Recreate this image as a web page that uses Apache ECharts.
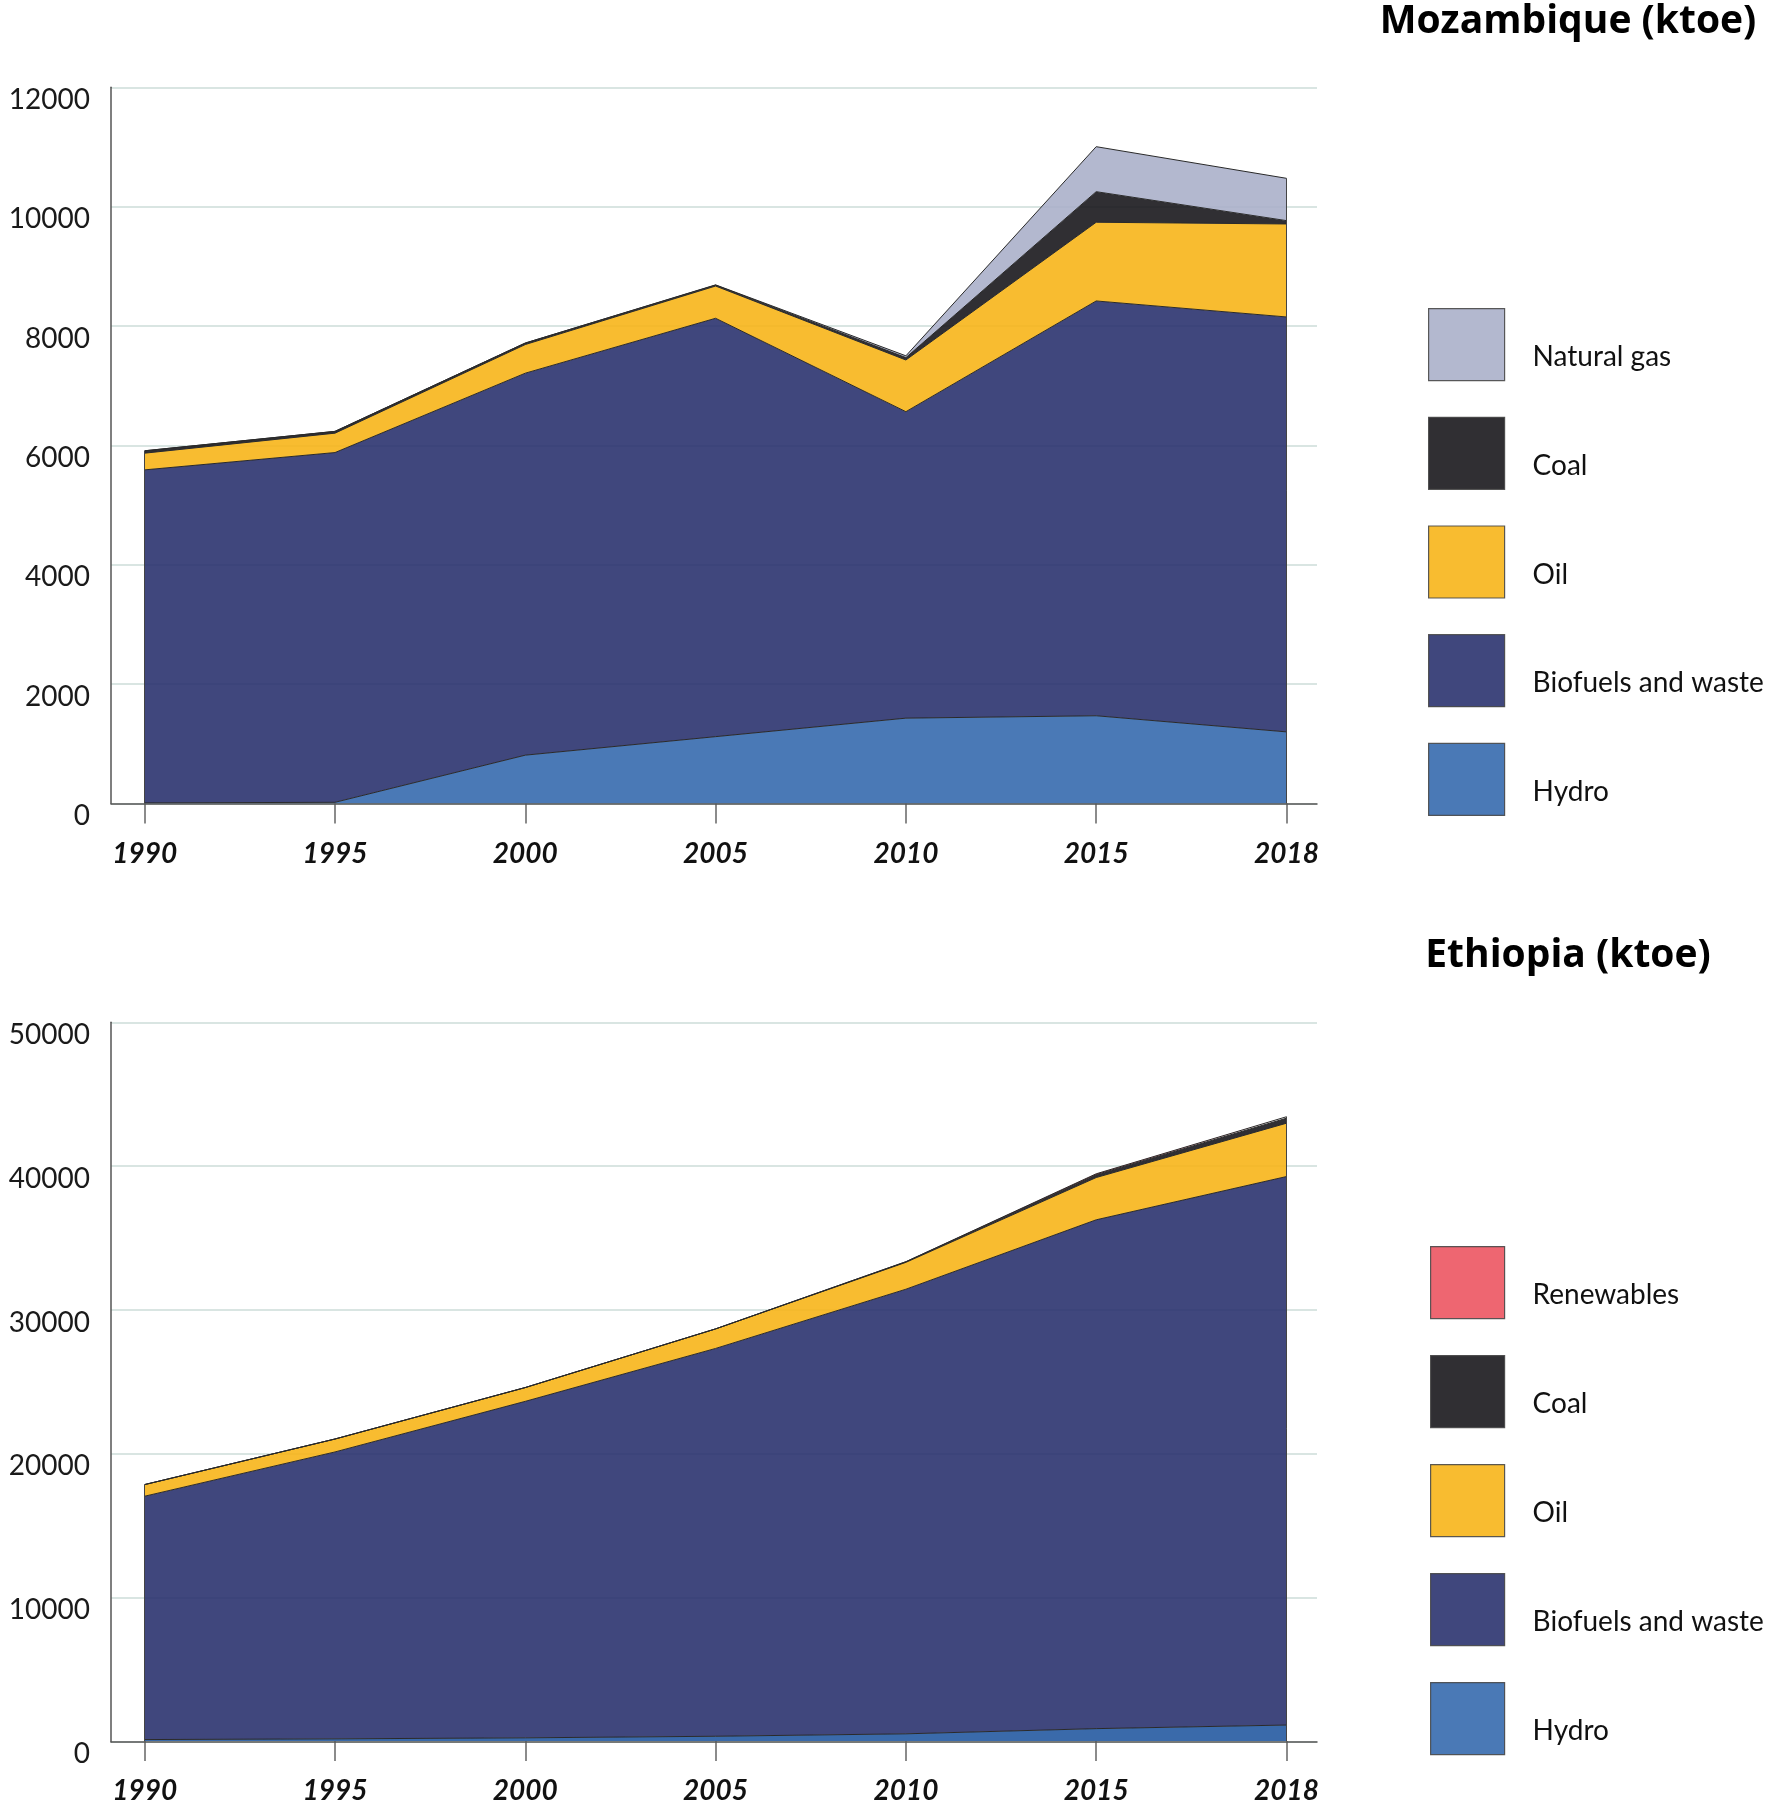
<!DOCTYPE html>
<html>
<head>
<meta charset="utf-8">
<script src="https://cdn.jsdelivr.net/npm/echarts@6/dist/echarts.min.js"></script>
<style>
  html, body { margin: 0; padding: 0; background: #ffffff; }
  #chart { width: 1770px; height: 1805px; }
</style>
</head>
<body>
<div id="chart"></div>
<script>
// ---- Data ----
const years = ['1990', '1995', '2000', '2005', '2010', '2015', '2018'];

// Mozambique (ktoe)
const mozHydro     = [10, 20, 810, 1120, 1430, 1470, 1200];
const mozBiofuels  = [5580, 5860, 6400, 7010, 5135, 6950, 6952];
const mozOil       = [280, 325, 480, 540, 866, 1319, 1558];
const mozCoal      = [40, 30, 25, 15, 40, 512, 56];
const mozGas       = [0, 0, 0, 5, 30, 754, 709];

// Ethiopia (ktoe)
const ethHydro     = [100, 150, 220, 330, 500, 860, 1110];
const ethBiofuels  = [16930, 19960, 23410, 26980, 30930, 35400, 38160];
const ethOil       = [810, 900, 960, 1360, 1870, 2940, 3710];
const ethCoal      = [0, 0, 0, 0, 40, 200, 350];
const ethRenew     = [0, 0, 0, 0, 5, 60, 100];

const mozLegend = ['Natural gas', 'Coal', 'Oil', 'Biofuels and waste', 'Hydro'];
const ethLegend = ['Renewables', 'Coal', 'Oil', 'Biofuels and waste', 'Hydro'];

// ---- Styling ----
const ALPHA = 0.88;
function base(hex) {
  const m = [1, 3, 5].map(i => parseInt(hex.substr(i, 2), 16));
  const b = m.map(v => Math.max(0, Math.min(255, Math.round((v - (1 - ALPHA) * 255) / ALPHA))));
  return '#' + b.map(v => v.toString(16).padStart(2, '0')).join('');
}
const COLORS = {
  'Natural gas': base('#b3b8cf'),
  'Coal': base('#2f2e33'),
  'Oil': base('#f8bc2f'),
  'Biofuels and waste': base('#3f467d'),
  'Hydro': base('#4a78b6'),
  'Renewables': base('#ee6670')
};
const ETH_HYDRO_COLOR = base('#3a69aa');

const FONT = 'Lato, "Open Sans", sans-serif';
const TITLE_FONT = '"Open Sans", Lato, sans-serif';

function totalAt(arrays, i) { return arrays.reduce((s, a) => s + a[i], 0); }

// vertical outline at the first and last year of a stack
function edgeLines(arrays) {
  const last = years.length - 1;
  return {
    silent: true,
    symbol: ['none', 'none'],
    label: { show: false },
    lineStyle: { color: '#444', width: 1, type: 'solid' },
    emphasis: { disabled: true },
    data: [
      [{ coord: [years[0], 0] }, { coord: [years[0], totalAt(arrays, 0)] }],
      [{ coord: [years[last], 0] }, { coord: [years[last], totalAt(arrays, last)] }]
    ]
  };
}

function mkSeries(name, data, axisIdx, stack, colorOverride, edges) {
  const c = colorOverride || COLORS[name];
  const s = {
    name: name,
    type: 'line',
    xAxisIndex: axisIdx,
    yAxisIndex: axisIdx,
    stack: stack,
    data: data,
    symbol: 'none',
    color: c,
    lineStyle: { color: '#2a2a2a', width: 1 },
    areaStyle: { color: c, opacity: ALPHA },
    itemStyle: { color: c },
    emphasis: { disabled: true },
    animation: false
  };
  if (edges) s.markLine = edgeLines(edges);
  return s;
}

// outer frame axes (axis lines, y labels, gridlines)
function mkOuterX(gi) {
  return {
    type: 'value', gridIndex: gi, min: 0, max: 1, z: 5,
    axisLine: { show: true, onZero: false, lineStyle: { color: '#555', width: 1.5 } },
    axisTick: { show: false }, axisLabel: { show: false }, splitLine: { show: false }
  };
}
function mkOuterY(gi, max, interval) {
  return {
    type: 'value', gridIndex: gi, min: 0, max: max, interval: interval,
    axisLine: { show: true, onZero: false, lineStyle: { color: '#555', width: 1.5 } },
    axisTick: { show: false },
    axisLabel: {
      margin: 21,
      fontSize: 28,
      lineHeight: 25,
      fontFamily: FONT,
      color: '#1a1a1a',
      formatter: v => '\n' + v
    },
    splitLine: { show: true, lineStyle: { color: '#cddcd9', width: 1.5 } }
  };
}
// inner data axes (category years)
function mkInnerX(gi) {
  return {
    type: 'category', gridIndex: gi, data: years, boundaryGap: false,
    axisLine: { show: false },
    axisTick: { show: true, interval: 0, length: 20, lineStyle: { color: '#666', width: 1.5 } },
    axisLabel: {
      interval: 0,
      margin: 36,
      fontSize: 28,
      fontWeight: 'bold',
      fontStyle: 'italic',
      fontFamily: FONT,
      color: '#111'
    },
    splitLine: { show: false }
  };
}
function mkInnerY(gi, max) {
  return { type: 'value', gridIndex: gi, min: 0, max: max, show: false, splitLine: { show: false } };
}

function mkLegend(data, left, top, w, h, gap) {
  return {
    data: data,
    orient: 'vertical',
    left: left,
    top: top,
    padding: 0,
    itemWidth: w,
    itemHeight: h,
    itemGap: gap,
    icon: 'rect',
    selectedMode: false,
    itemStyle: { borderColor: '#444', borderWidth: 1.2, opacity: ALPHA },
    formatter: name => '\n' + name,
    textStyle: {
      fontSize: 28,
      lineHeight: 25,
      fontFamily: FONT,
      color: '#111',
      padding: [0, 0, 0, 23]
    }
  };
}

const mozAll = [mozHydro, mozBiofuels, mozOil, mozCoal, mozGas];
const ethAll = [ethHydro, ethBiofuels, ethOil, ethCoal, ethRenew];

const option = {
  backgroundColor: '#ffffff',
  animation: false,
  title: [
    {
      text: 'Mozambique (ktoe)', left: 1568, top: 2, padding: 0, textAlign: 'center',
      textStyle: { fontSize: 39, fontWeight: 'bold', color: '#000', fontFamily: TITLE_FONT }
    },
    {
      text: 'Ethiopia (ktoe)', left: 1568, top: 936, padding: 0, textAlign: 'center',
      textStyle: { fontSize: 39, fontWeight: 'bold', color: '#000', fontFamily: TITLE_FONT }
    }
  ],
  legend: [
    mkLegend(mozLegend, 1428, 308, 76, 72, 35.5),
    mkLegend(ethLegend, 1430, 1246, 74, 72, 35.8)
  ],
  grid: [
    { left: 111, top: 87.3, width: 1206, height: 716.2 },
    { left: 144.7, top: 87.3, width: 1141.8, height: 716.2 },
    { left: 111, top: 1022.3, width: 1206, height: 719.4 },
    { left: 144.7, top: 1022.3, width: 1141.8, height: 719.4 }
  ],
  xAxis: [mkOuterX(0), mkInnerX(1), mkOuterX(2), mkInnerX(3)],
  yAxis: [mkOuterY(0, 12000, 2000), mkInnerY(1, 12000), mkOuterY(2, 50000, 10000), mkInnerY(3, 50000)],
  series: [
    mkSeries('Hydro', mozHydro, 1, 'moz'),
    mkSeries('Biofuels and waste', mozBiofuels, 1, 'moz'),
    mkSeries('Oil', mozOil, 1, 'moz'),
    mkSeries('Coal', mozCoal, 1, 'moz'),
    mkSeries('Natural gas', mozGas, 1, 'moz', null, mozAll),
    mkSeries('Hydro', ethHydro, 3, 'eth', ETH_HYDRO_COLOR),
    mkSeries('Biofuels and waste', ethBiofuels, 3, 'eth'),
    mkSeries('Oil', ethOil, 3, 'eth'),
    mkSeries('Coal', ethCoal, 3, 'eth'),
    mkSeries('Renewables', ethRenew, 3, 'eth', null, ethAll)
  ]
};

const chart = echarts.init(document.getElementById('chart'), null, { renderer: 'canvas' });
chart.setOption(option);
</script>
</body>
</html>
